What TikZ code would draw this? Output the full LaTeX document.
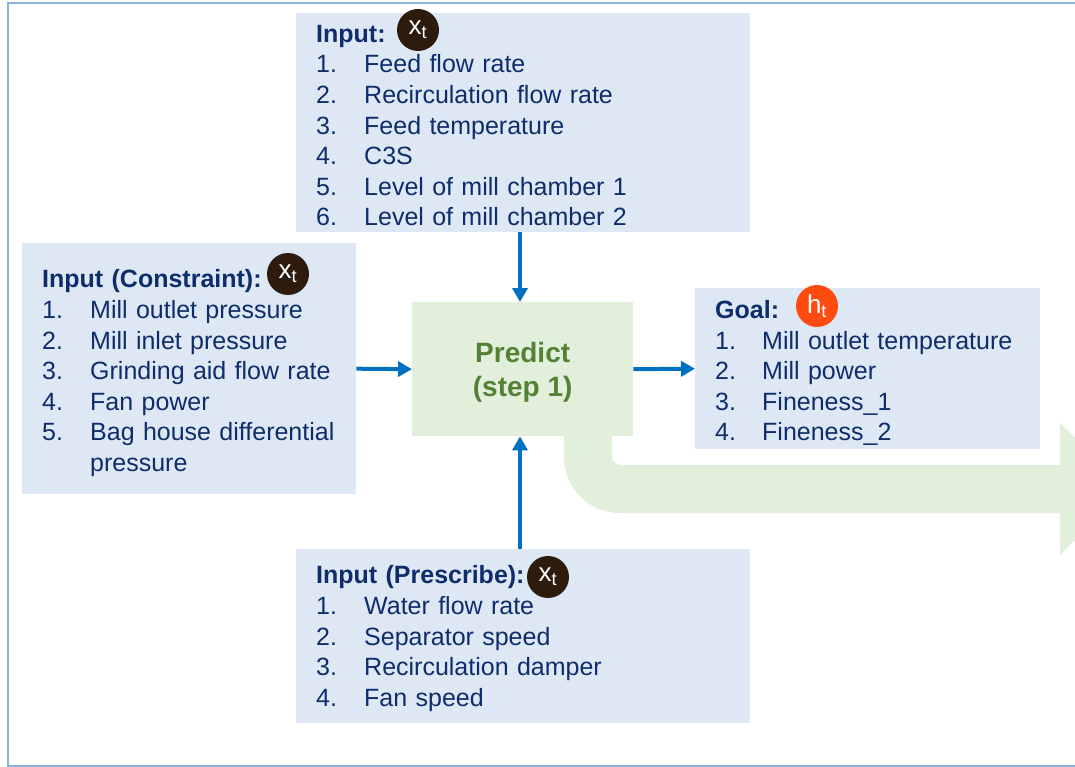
\documentclass[tikz,border=0pt]{standalone}
\usepackage{fontspec}
\setmainfont{Liberation Sans}
\usetikzlibrary{arrows.meta}
\definecolor{boxblue}{HTML}{DDE8F4}
\definecolor{navy}{HTML}{0F2C6B}
\definecolor{predgreen}{HTML}{E2EFDA}
\definecolor{predtext}{HTML}{538135}
\definecolor{arrowblue}{HTML}{0070C0}
\definecolor{tagbrown}{HTML}{2D1B0E}
\definecolor{tagorange}{HTML}{FF4B10}
\definecolor{frameblue}{HTML}{8AB2DE}
\newcommand{\itm}[2]{\makebox[48pt][l]{#1}#2}
\newcommand{\hd}[2]{\rule{0pt}{#1}\textbf{#2}}
\tikzset{
  listbox/.style={fill=boxblue, text=navy, anchor=north west, inner xsep=20pt, inner ysep=0pt,
    align=left, font=\fontsize{25}{30.6}\selectfont},
  tag/.style={circle, text=white, minimum size=42pt, inner sep=0pt, font=\fontsize{26}{26}\selectfont},
  flow/.style={draw=arrowblue, line width=4pt, -{Triangle[length=14pt,width=15pt]}},
}
\begin{document}
\begin{tikzpicture}[x=1pt,y=-1pt]
\useasboundingbox (0,0) rectangle (1075,767);
\clip (0,0) rectangle (1075,767);
\draw[frameblue, line width=1.5pt] (8,3) rectangle (1100,766);
% loop-back arrow
\fill[predgreen] (564,430) -- (564,457) .. controls (564,488) and (589,513) .. (620,513)
  -- (1060,513) -- (1060,555) -- (1126,489) -- (1060,423) -- (1060,465) -- (620,465)
  .. controls (616,465) and (612,461) .. (612,457) -- (612,430) -- cycle;
\node[listbox, text width=414pt, minimum height=219pt] (topin) at (296,13) {\hd{23pt}{Input:}\\
  \itm{1.}{Feed flow rate}\\
  \itm{2.}{Recirculation flow rate}\\
  \itm{3.}{Feed temperature}\\
  \itm{4.}{C3S}\\
  \itm{5.}{Level of mill chamber 1}\\
  \itm{6.}{Level of mill chamber 2}};
\node[listbox, text width=294pt, minimum height=251pt] (constr) at (22,243) {\hd{27pt}{Input (Constraint):}\\
  \itm{1.}{Mill outlet pressure}\\
  \itm{2.}{Mill inlet pressure}\\
  \itm{3.}{Grinding aid flow rate}\\
  \itm{4.}{Fan power}\\
  \itm{5.}{Bag house differential}\\
  \hspace*{48pt}pressure};
\node[fill=predgreen, text=predtext, anchor=north west, minimum width=221pt, minimum height=134pt,
  align=center, font=\fontsize{28}{34}\selectfont\bfseries] (predict) at (412,302) {\rule{0pt}{27pt}Predict\\(step 1)};
\node[listbox, text width=305pt, minimum height=161pt] (goal) at (695,288) {\hd{27pt}{Goal:}\\
  \makebox[47pt][l]{1.}Mill outlet temperature\\
  \makebox[47pt][l]{2.}Mill power\\
  \makebox[47pt][l]{3.}Fineness\_1\\
  \makebox[47pt][l]{4.}Fineness\_2};
\node[listbox, text width=414pt, minimum height=174pt] (prescr) at (296,549) {\hd{23pt}{Input (Prescribe):}\\
  \itm{1.}{Water flow rate}\\
  \itm{2.}{Separator speed}\\
  \itm{3.}{Recirculation damper}\\
  \itm{4.}{Fan speed}};
\node[tag, fill=tagbrown] (xtop) at (418,30) {x\textsubscript{t}};
\node[tag, fill=tagbrown] (xcon) at (288,274) {x\textsubscript{t}};
\node[tag, fill=tagbrown] (xpre) at (548,577) {x\textsubscript{t}};
\node[tag, fill=tagorange] (hgoal) at (817,306) {h\textsubscript{t}};
\draw[flow] (topin.south -| 520,0) -- (predict.north -| 520,0);
\draw[flow] (prescr.north -| 520,0) -- (predict.south -| 520,0);
\draw[flow] (constr.east) -- (predict.west);
\draw[flow] (predict.east) -- (goal.west);
\end{tikzpicture}
\end{document}
